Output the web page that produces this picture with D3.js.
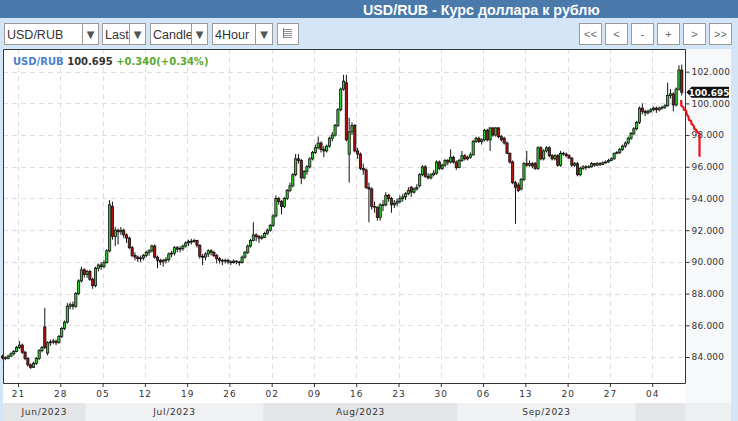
<!DOCTYPE html>
<html>
<head>
<meta charset="utf-8">
<script src="https://cdn.jsdelivr.net/npm/d3@7"></script>
<style>
  body { margin: 0; background: #fff; }
  svg { display: block; }
</style>
</head>
<body>
<svg id="chart" width="738" height="421"></svg>
<script>
// 4-hour candles, three per trading day: [open, high, low, close]
const candles = [
  [84.05,84.15,83.85,83.95],[83.95,84.05,83.8,83.9],[83.9,84.15,83.85,84.05],[84.05,84.3,84.0,84.2],
  [84.2,84.45,84.1,84.35],[84.35,84.7,84.3,84.6],[84.6,85.0,84.5,84.75],[84.75,84.85,84.2,84.3],
  [84.3,84.4,83.8,83.9],[83.9,84.0,83.4,83.5],[83.5,83.6,83.25,83.35],[83.35,83.7,83.3,83.6],
  [83.6,84.0,83.5,83.9],[83.9,84.5,83.8,84.4],[84.4,84.7,84.3,84.6],[85.9,87.1,84.5,84.6],
  [84.25,85.0,84.1,84.9],[84.9,85.1,84.7,84.95],[84.95,85.15,84.8,85.0],[85.0,85.1,84.75,84.9],
  [84.9,85.4,84.85,85.3],[85.3,85.9,85.2,85.8],[85.8,86.3,85.7,86.2],[86.2,87.4,86.1,87.2],
  [87.2,87.45,87.0,87.3],[87.3,87.5,87.0,87.2],[87.2,88.1,87.1,88.0],[88.0,88.9,87.9,88.8],
  [88.8,89.7,88.7,89.5],[89.5,89.6,89.0,89.2],[89.2,89.5,89.0,89.4],[89.4,89.5,88.8,88.9],
  [88.9,89.0,88.3,88.5],[88.5,89.7,88.4,89.6],[89.6,89.9,89.4,89.8],[89.8,90.0,89.5,89.7],
  [89.7,90.1,89.6,89.95],[89.95,90.8,89.9,90.7],[90.7,93.9,90.6,93.6],[93.5,93.8,91.4,91.6],
  [91.6,92.2,91.0,92.0],[92.0,92.1,91.1,91.9],[91.9,92.2,91.7,92.0],[92.0,92.1,91.5,91.7],
  [91.7,91.8,91.2,91.5],[91.5,91.6,90.8,90.9],[90.9,91.0,90.3,90.4],[90.4,90.6,90.1,90.3],
  [90.3,90.4,90.0,90.2],[90.2,90.4,90.0,90.25],[90.25,90.5,90.1,90.4],[90.4,90.7,90.3,90.6],
  [90.6,90.8,90.4,90.7],[90.7,91.1,90.6,91.0],[91.0,91.1,90.2,90.3],[90.3,90.4,89.6,90.1],
  [90.1,90.2,89.8,90.0],[90.0,90.2,89.7,90.1],[90.1,90.3,89.9,90.15],[90.15,90.6,90.0,90.5],
  [90.5,90.7,90.3,90.55],[90.55,91.0,90.4,90.9],[90.9,91.0,90.6,90.8],[90.8,91.0,90.6,90.85],
  [90.85,91.1,90.7,91.0],[91.0,91.3,90.9,91.2],[91.2,91.4,91.0,91.3],[91.3,91.45,91.1,91.3],
  [91.3,91.45,91.2,91.35],[91.35,91.4,90.9,91.05],[91.05,91.1,90.2,90.35],[90.35,90.5,89.8,90.3],
  [90.3,90.6,90.1,90.5],[90.5,90.8,90.3,90.7],[90.7,90.8,90.4,90.6],[90.6,90.7,90.3,90.4],
  [90.4,90.5,89.9,90.2],[90.2,90.3,89.9,90.1],[90.1,90.2,89.8,90.05],[90.05,90.2,89.9,90.1],
  [90.1,90.2,89.85,90.0],[90.0,90.1,89.8,89.95],[89.95,90.15,89.9,90.05],[90.05,90.1,89.85,90.0],
  [90.0,90.05,89.75,89.95],[89.95,90.4,89.9,90.3],[90.3,90.7,90.2,90.6],[90.6,91.1,90.5,91.0],
  [91.0,91.45,90.9,91.35],[91.35,92.5,91.3,91.7],[91.7,91.8,91.3,91.6],[91.6,91.7,91.2,91.5],
  [91.5,91.7,91.4,91.55],[91.55,91.9,91.5,91.8],[91.8,92.1,91.7,92.0],[92.0,92.4,91.9,92.3],
  [92.3,93.0,92.2,92.9],[92.9,94.2,92.8,94.0],[94.0,94.1,93.6,93.8],[93.8,93.9,93.0,93.5],
  [93.5,94.1,93.4,94.0],[94.0,94.6,93.9,94.5],[94.5,95.0,94.4,94.8],[94.8,95.6,94.7,95.5],
  [95.5,96.8,95.4,96.5],[96.5,96.8,96.2,96.4],[96.4,96.5,94.9,95.3],[95.3,95.8,95.2,95.7],
  [95.7,96.1,95.5,96.0],[96.0,96.6,95.9,96.5],[96.5,97.0,96.4,96.9],[96.9,97.4,96.8,97.2],
  [97.2,97.9,97.1,97.5],[97.5,97.6,96.9,97.1],[97.1,97.3,96.6,97.0],[97.0,97.4,96.9,97.3],
  [97.3,97.9,97.2,97.8],[97.8,98.2,97.6,98.0],[98.0,98.7,97.9,98.6],[98.6,99.7,98.5,99.6],
  [99.6,101.0,99.5,100.9],[100.9,101.8,100.8,101.4],[101.3,101.8,97.6,97.7],[96.8,99.1,95.0,98.2],
  [98.2,98.8,98.0,98.6],[98.6,98.7,96.9,97.0],[97.0,97.2,96.5,96.8],[96.8,96.9,95.8,95.9],
  [95.9,96.2,95.5,95.8],[95.8,95.9,94.6,94.7],[94.7,95.0,92.5,94.6],[94.6,94.7,93.3,93.5],
  [93.5,93.8,93.1,93.45],[93.45,93.5,92.6,92.8],[92.8,93.7,92.6,93.6],[93.6,93.9,93.2,93.6],
  [93.6,94.4,93.5,94.2],[94.2,94.3,93.8,94.0],[94.0,94.1,93.1,93.6],[93.6,93.9,93.4,93.7],
  [93.7,94.0,93.5,93.8],[93.8,94.2,93.7,94.0],[94.0,94.3,93.8,94.1],[94.1,94.4,93.9,94.3],
  [94.3,94.7,94.2,94.5],[94.7,94.8,94.1,94.4],[94.4,94.7,94.3,94.6],[94.6,94.9,94.5,94.7],
  [94.8,95.6,94.7,95.5],[95.5,96.1,95.4,96.0],[96.0,96.1,95.3,95.4],[95.4,95.6,95.2,95.3],
  [95.3,95.6,95.2,95.5],[95.5,95.8,95.4,95.6],[95.6,96.4,95.5,96.3],[96.3,96.4,95.8,95.9],
  [95.9,96.2,95.8,96.1],[96.1,96.5,96.0,96.4],[96.4,96.5,96.1,96.3],[96.3,97.1,96.2,96.6],
  [96.6,96.7,96.2,96.3],[96.3,96.4,95.8,95.95],[95.95,96.5,95.9,96.4],[96.4,97.0,96.3,96.7],
  [96.7,96.8,96.4,96.5],[96.5,96.7,96.4,96.6],[96.6,96.9,96.5,96.75],[96.75,97.7,96.7,97.6],
  [97.6,97.9,97.5,97.8],[97.8,97.9,97.5,97.6],[97.6,97.8,97.4,97.7],[97.7,98.4,97.6,98.3],
  [98.3,98.4,97.6,97.7],[97.7,98.5,97.0,98.45],[98.45,98.5,97.9,98.0],[98.0,98.5,97.9,98.45],
  [98.45,98.5,97.8,97.9],[97.9,98.0,97.6,97.7],[97.8,97.9,97.4,97.5],[97.5,97.6,96.8,96.85],
  [96.85,96.9,96.2,96.3],[96.3,96.4,94.9,95.0],[95.0,95.1,92.4,94.7],[94.85,95.0,94.4,94.5],
  [94.6,95.3,94.5,95.2],[95.2,96.3,95.1,96.2],[96.2,97.0,96.0,96.1],[96.1,96.4,96.0,96.2],
  [96.2,96.3,95.9,96.05],[96.2,96.3,95.8,95.9],[95.9,97.3,95.8,97.2],[97.2,97.3,96.4,96.5],
  [96.5,97.1,96.4,97.0],[97.0,97.3,96.9,97.2],[97.2,97.3,96.6,96.7],[96.7,96.8,96.4,96.5],
  [96.5,96.8,96.4,96.7],[96.7,96.8,96.0,96.1],[96.1,97.0,96.0,96.85],[96.85,96.95,96.7,96.8],
  [96.8,96.9,96.6,96.7],[96.7,96.8,96.5,96.55],[96.55,96.6,96.0,96.1],[96.1,96.3,96.0,96.2],
  [96.2,96.3,95.4,95.5],[95.5,96.0,95.4,95.9],[95.9,96.1,95.8,96.0],[96.0,96.1,95.8,95.95],
  [95.95,96.1,95.9,96.0],[96.0,96.3,95.95,96.2],[96.2,96.25,96.0,96.1],[96.1,96.3,96.05,96.2],
  [96.2,96.3,96.05,96.15],[96.15,96.35,96.1,96.25],[96.25,96.4,96.2,96.3],[96.3,96.5,96.25,96.4],
  [96.4,96.6,96.35,96.5],[96.5,96.9,96.45,96.85],[96.85,97.0,96.8,96.9],[96.9,97.2,96.8,97.1],
  [97.1,97.4,97.0,97.3],[97.3,97.6,97.2,97.5],[97.5,97.9,97.4,97.8],[97.8,98.2,97.7,98.1],
  [98.1,98.5,98.0,98.4],[98.4,98.9,98.3,98.8],[98.8,99.8,98.7,99.7],[99.7,100.0,99.3,99.5],
  [99.5,99.6,99.2,99.4],[99.4,99.6,99.3,99.5],[99.5,99.7,99.4,99.6],[99.6,99.8,99.5,99.7],
  [99.7,99.8,99.4,99.6],[99.6,99.8,99.5,99.7],[99.7,99.85,99.6,99.75],[99.75,99.95,99.65,99.85],
  [99.85,101.3,99.8,100.5],[100.5,100.9,100.3,100.6],[100.6,100.7,99.5,99.9],[99.9,101.0,99.8,100.9],
  [100.9,102.4,100.8,102.1],[102.1,102.45,100.5,100.695]
];
const candlesPerDay = 3;
const tradingDays = 81;

const priceTicks = [84, 86, 88, 90, 92, 94, 96, 98, 100, 102];
const weekTickDays = [2, 7, 12, 17, 22, 27, 32, 37, 42, 47, 52, 57, 62, 67, 72, 77];
const weekTickLabels = ['21','28','05','12','19','26','02','09','16','23','30','06','13','20','27','04'];
const monthStarts = [0, 10, 31, 54, 75];
const monthLabels = ['Jun/2023', 'Jul/2023', 'Aug/2023', 'Sep/2023', ''];

// red overlay line after the last candle: [trading day, price]
const forecast = [
  [80.43,100.21],[80.45,99.85],[80.7,99.75],[80.75,99.6],[81.0,99.55],[81.1,99.3],
  [81.3,99.15],[81.35,98.95],[81.6,98.9],[81.65,98.7],[81.9,98.6],[82.0,98.4],
  [82.25,98.3],[82.3,98.2],[82.6,98.1],[82.6,96.63]
];

const lastPrice = 100.695;
const change = '+0.340(+0.34%)';
const title = 'USD/RUB - Курс доллара к рублю';

const svg = d3.select('#chart');
const plotL = 3, plotR = 685.5, plotT = 49, plotB = 383;

const x = d3.scaleLinear().domain([0, tradingDays]).range([1.1, 686]);
const y = d3.scaleLinear().domain([82.36, 103.43]).range([plotB, plotT]);

// ---- frame / backgrounds
svg.append('rect').attr('width', 738).attr('height', 421).attr('fill', '#f7f8fa');
svg.append('rect').attr('x', 0).attr('y', 18).attr('width', 738).attr('height', 31).attr('fill', '#d5e5f8');
svg.append('rect').attr('x', 0).attr('y', 0).attr('width', 738).attr('height', 18).attr('fill', '#4a79ab');
svg.append('text').attr('x', 363).attr('y', 14.5).text(title)
  .attr('fill', '#fff').attr('font-family', 'Liberation Sans, Arial, sans-serif')
  .attr('font-weight', 'bold').attr('font-size', 14.3);
svg.append('rect').attr('x', 0).attr('y', 46).attr('width', 3).attr('height', 375).attr('fill', '#d5e5f8');
svg.append('rect').attr('x', 731).attr('y', 46).attr('width', 7).attr('height', 375).attr('fill', '#d5e5f8');
svg.append('rect').attr('x', plotL).attr('y', plotB).attr('width', plotR - plotL).attr('height', 20).attr('fill', '#fff');

// ---- toolbar
const font = 'Liberation Sans, Arial, sans-serif';
const selects = [
  { label: 'USD/RUB', x0: 4, div: 82, x1: 98 },
  { label: 'Last', x0: 102, div: 129, x1: 145 },
  { label: 'Candle', x0: 150, div: 191, x1: 207 },
  { label: '4Hour', x0: 212, div: 255, x1: 272 }
];
selects.forEach((s) => {
  svg.append('rect').attr('x', s.x0 + 0.5).attr('y', 23.5).attr('width', s.x1 - s.x0).attr('height', 21)
    .attr('fill', '#fff').attr('stroke', '#9a9a9a');
  svg.append('text').attr('x', s.x0 + 3).attr('y', 38.5).text(s.label)
    .attr('font-family', font).attr('font-size', 12.5).attr('fill', '#333');
  svg.append('rect').attr('x', s.div + 0.5).attr('y', 23.5).attr('width', s.x1 - s.div).attr('height', 21)
    .attr('fill', '#fff').attr('stroke', '#9a9a9a');
  svg.append('text').attr('x', (s.div + s.x1) / 2 + 0.5).attr('y', 38).text('▼')
    .attr('text-anchor', 'middle').attr('font-family', 'DejaVu Sans').attr('font-size', 10).attr('fill', '#555');
});
svg.append('rect').attr('x', 277.5).attr('y', 23.5).attr('width', 21).attr('height', 21)
  .attr('fill', '#fff').attr('stroke', '#9a9a9a');
[0, 1, 2, 3, 4].forEach((k) => {
  svg.append('line').attr('x1', 284).attr('x2', 292).attr('y1', 29.5 + k * 2).attr('y2', 29.5 + k * 2)
    .attr('stroke', '#777').attr('stroke-width', 0.8);
});
svg.append('line').attr('x1', 283.5).attr('x2', 283.5).attr('y1', 28).attr('y2', 38).attr('stroke', '#777');

const navButtons = ['<<', '<', '-', '+', '>', '>>'];
const navX = [579, 605, 631, 657, 683, 709];
navButtons.forEach((b, k) => {
  svg.append('rect').attr('x', navX[k] + 0.5).attr('y', 23.5).attr('width', 22).attr('height', 21)
    .attr('fill', '#fff').attr('stroke', '#9a9a9a');
  svg.append('text').attr('x', navX[k] + 11.5).attr('y', 37.5).text(b).attr('text-anchor', 'middle')
    .attr('font-family', font).attr('font-size', 11).attr('fill', '#666');
});

// ---- plot area
svg.append('rect').attr('x', plotL).attr('y', plotT).attr('width', plotR - plotL).attr('height', plotB - plotT)
  .attr('fill', '#fff');

// month bands
const bandEnds = monthStarts.slice(1).concat([tradingDays]);
monthStarts.forEach((m, k) => {
  const x0 = Math.max(plotL, x(m));
  const x1 = Math.min(plotR, x(bandEnds[k]));
  svg.append('rect').attr('x', x0).attr('y', 403).attr('width', x1 - x0).attr('height', 18)
    .attr('fill', k % 2 === 0 ? '#e4e5e8' : '#f0f1f3');
  svg.append('text').attr('x', (x0 + x1) / 2).attr('y', 414.5).text(monthLabels[k])
    .attr('text-anchor', 'middle').attr('font-family', 'DejaVu Sans').attr('font-size', 9)
    .attr('letter-spacing', 0.7).attr('fill', '#333');
});
svg.append('rect').attr('x', plotR).attr('y', 403).attr('width', 731 - plotR).attr('height', 18).attr('fill', '#eeeff1');

// grid
svg.append('g').selectAll('line').data(priceTicks).join('line')
  .attr('x1', plotL).attr('x2', plotR)
  .attr('y1', (d) => Math.round(y(d)) + 0.5).attr('y2', (d) => Math.round(y(d)) + 0.5)
  .attr('stroke', '#dedede').attr('stroke-dasharray', '5,4');
svg.append('g').selectAll('line').data(weekTickDays).join('line')
  .attr('x1', (d) => Math.round(x(d)) + 0.5).attr('x2', (d) => Math.round(x(d)) + 0.5)
  .attr('y1', plotT).attr('y2', plotB)
  .attr('stroke', '#dedede').attr('stroke-dasharray', '5,4');

// candles
const plot = svg.append('g');
const cx = (i) => x((i + 0.5) / candlesPerDay);
plot.selectAll('line.wick').data(candles).join('line').attr('class', 'wick')
  .attr('x1', (d, i) => cx(i)).attr('x2', (d, i) => cx(i))
  .attr('y1', (d) => y(d[1])).attr('y2', (d) => y(d[2]))
  .attr('stroke', '#111').attr('stroke-width', 1);
plot.selectAll('rect.body').data(candles).join('rect').attr('class', 'body')
  .attr('x', (d, i) => cx(i) - 1.1).attr('width', 2.2)
  .attr('y', (d) => y(Math.max(d[0], d[3])))
  .attr('height', (d) => Math.max(0.8, Math.abs(y(d[0]) - y(d[3]))))
  .attr('fill', (d) => (d[3] >= d[0] ? '#33cc33' : '#aa1111'))
  .attr('stroke', '#111').attr('stroke-width', 0.8);

// frame
svg.append('path')
  .attr('d', `M${plotL + 0.5},${plotT + 0.5}H${plotR}V${plotB + 0.5}H${plotL + 0.5}Z`)
  .attr('fill', 'none').attr('stroke', '#333');

// axes
const yAxis = d3.axisRight(y).tickValues(priceTicks).tickSize(4).tickPadding(2)
  .tickFormat((d) => d3.format('.3f')(d));
svg.append('g').attr('transform', `translate(${plotR},0)`).call(yAxis)
  .call((g) => g.select('.domain').remove())
  .call((g) => g.selectAll('line').attr('stroke', '#333'))
  .call((g) => g.selectAll('text').attr('font-family', 'DejaVu Sans').attr('font-size', 9)
    .attr('letter-spacing', 0.2).attr('fill', '#333'));

const xAxis = d3.axisBottom(x).tickValues(weekTickDays).tickSize(4).tickPadding(4)
  .tickFormat((d, k) => weekTickLabels[k]);
svg.append('g').attr('transform', `translate(0,${plotB})`).call(xAxis)
  .call((g) => g.select('.domain').remove())
  .call((g) => g.selectAll('line').attr('stroke', '#333'))
  .call((g) => g.selectAll('text').attr('font-family', 'DejaVu Sans').attr('font-size', 9)
    .attr('letter-spacing', 1).attr('fill', '#333'));

// red overlay line
svg.append('path').datum(forecast)
  .attr('d', d3.line().x((d) => x(d[0])).y((d) => y(d[1])))
  .attr('fill', 'none').attr('stroke', '#e8141c').attr('stroke-width', 2.2);

// last price marker
const ly = y(lastPrice);
svg.append('path')
  .attr('d', `M${plotR + 1},${ly}L${plotR + 6},${ly - 5.5}H729V${ly + 5.5}H${plotR + 6}Z`)
  .attr('fill', '#111');
svg.append('text').attr('x', 709).attr('y', ly + 3.5).text(lastPrice.toFixed(3))
  .attr('text-anchor', 'middle').attr('font-family', 'DejaVu Sans').attr('font-weight', 'bold')
  .attr('font-size', 9).attr('fill', '#fff');

// legend
const legend = svg.append('text').attr('x', 13).attr('y', 64.5)
  .attr('font-family', 'DejaVu Sans').attr('font-weight', 'bold').attr('font-size', 10);
legend.append('tspan').text('USD/RUB').attr('fill', '#4a7fd0');
legend.append('tspan').text(' ' + lastPrice.toFixed(3)).attr('fill', '#333');
legend.append('tspan').text(' ' + change).attr('fill', '#5aa832');
</script>
</body>
</html>
